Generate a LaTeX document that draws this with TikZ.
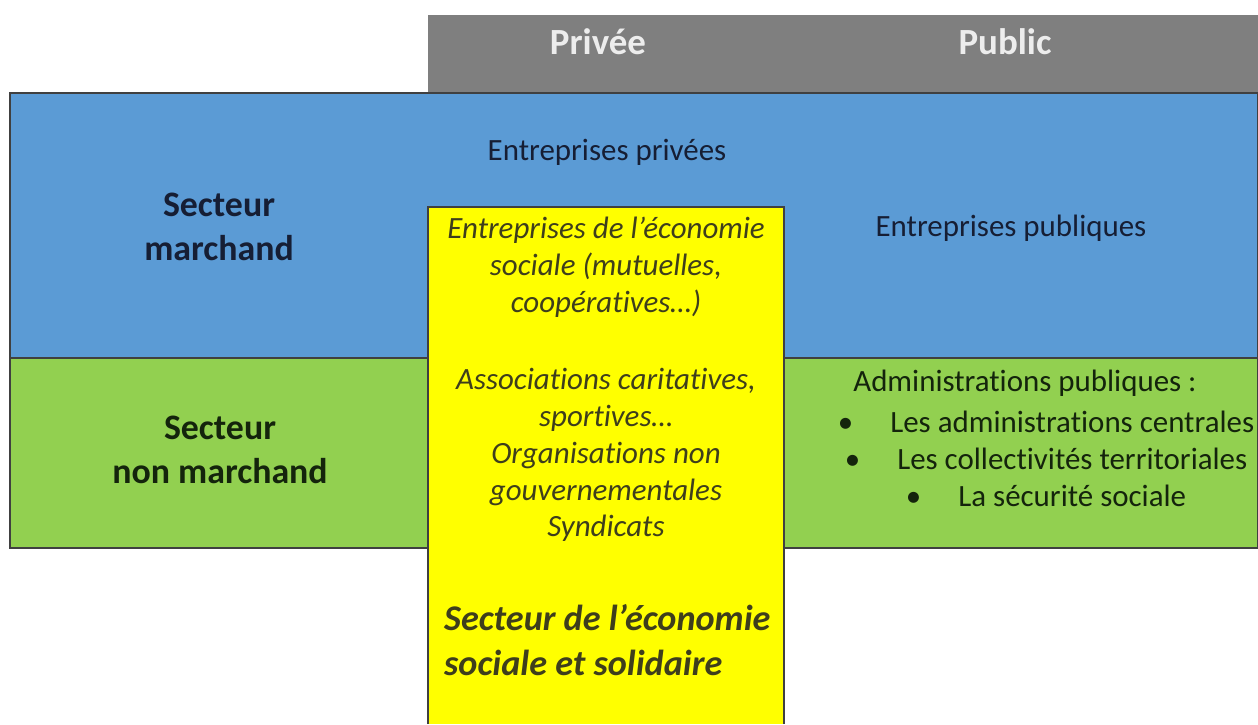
\documentclass[tikz,border=0pt]{standalone}
\usepackage{fontspec}
\setmainfont[Ligatures={NoCommon}]{Carlito}
\usepackage{tikz}

\definecolor{bandblue}{RGB}{91,155,213}
\definecolor{bandgreen}{RGB}{146,208,80}
\definecolor{headgray}{RGB}{127,127,127}
\definecolor{ssyellow}{RGB}{255,255,0}
\definecolor{inkblue}{RGB}{22,30,52}
\definecolor{inkgreen}{RGB}{20,36,12}
\definecolor{inkolive}{RGB}{62,62,28}

\tikzset{
	band/.style={draw=black!75, line width=0.8pt},
	rowlabel/.style={align=center, font=\fontsize{20.4}{25}\selectfont\bfseries},
	headlabel/.style={font=\fontsize{21}{24}\selectfont\bfseries, text=white!93!black},
	celltext/.style={align=center, font=\fontsize{17.6}{21}\selectfont},
	esstext/.style={align=center, font=\fontsize{17.6}{21}\selectfont\itshape, text=inkolive}
}

\begin{document}
\begin{tikzpicture}[x=0.02cm, y=-0.02cm]
				\useasboundingbox (0,0) rectangle (1258,724);
				% bandes et en-tete
				\fill[headgray] (428,15) rectangle (1258,92);
				\draw[band, fill=bandblue] (10,93) rectangle (1258,358);
				\draw[band, fill=bandgreen] (10,358) rectangle (1258,548);
				\fill[ssyellow] (428,207) rectangle (784,724);
				\draw[band] (428,724) -- (428,207) -- (784,207) -- (784,724);
				% en-tetes de colonnes
				\node[headlabel] (privee)at(598, 42) {Privée};
				\node[headlabel] (public)at(1005, 42) {Public};
				% lignes
				\node[rowlabel, text=inkblue] (marchand)at(219, 227) {Secteur\\marchand};
				\node[rowlabel, text=inkgreen] (nonmarchand)at(220, 450) {Secteur\\non marchand};
				% cases
				\node[celltext, text=inkblue] (entpriv)at(607, 152) {Entreprises privées};
				\node[celltext, text=inkblue] (entpub)at(1011, 228) {Entreprises publiques};
				\node[celltext, text=inkgreen] (admin)at(1025, 383) {Administrations publiques :};
				\node[celltext, text=inkgreen, inner sep=0pt] (adminlist)at(1046, 459) {%
					•\hspace{1.2em}Les administrations centrales\\
					•\hspace{1.2em}Les collectivités territoriales\\
					•\hspace{1.2em}La sécurité sociale};
				% economie sociale et solidaire
				\node[esstext] (entess)at(606, 267) {Entreprises de l’économie\\sociale (mutuelles,\\coopératives…)};
				\node[esstext] (assoc)at(606, 455) {Associations caritatives,\\sportives…\\Organisations non\\gouvernementales\\Syndicats};
				\node[align=left, anchor=west, text=inkolive, font=\fontsize{20.6}{26}\selectfont\bfseries\itshape] (ess)at(438, 640) {Secteur de l’économie\\sociale et solidaire};
			\end{tikzpicture}
\end{document}
